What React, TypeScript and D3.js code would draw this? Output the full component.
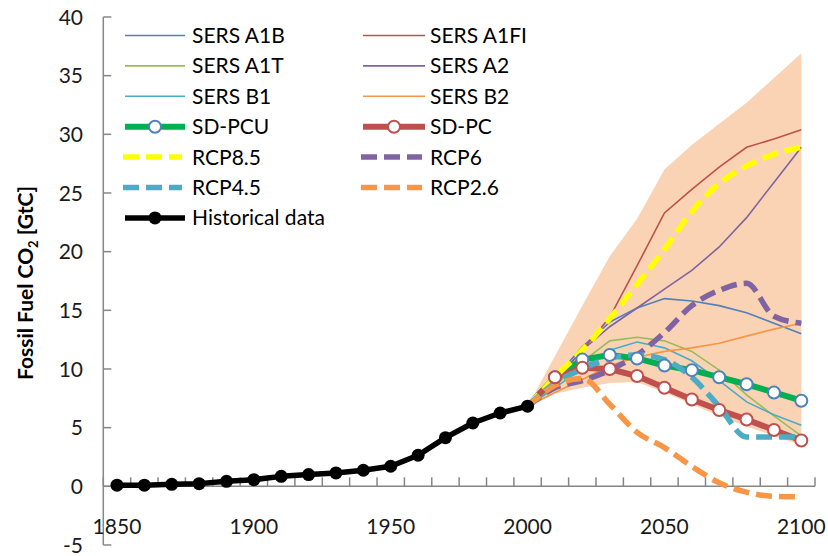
import React from "react";
import * as d3 from "d3";

const histYears = [1850, 1860, 1870, 1880, 1890, 1900, 1910, 1920, 1930, 1940, 1950, 1960, 1970, 1980, 1990, 2000];
const histValues = [0.1, 0.1, 0.17, 0.23, 0.43, 0.57, 0.85, 1.0, 1.14, 1.37, 1.71, 2.65, 4.15, 5.4, 6.25, 6.83];

const futureYears = [2000, 2010, 2020, 2030, 2040, 2050, 2060, 2070, 2080, 2090, 2100];
const sresA1B = [6.8, 9.2, 11.9, 14.0, 15.2, 16.0, 15.8, 15.4, 14.8, 13.9, 13.0];
const sresA1FI = [6.8, 9.0, 11.6, 14.4, 18.8, 23.3, 25.3, 27.2, 28.9, 29.6, 30.4];
const sresA1T = [6.8, 8.6, 10.6, 12.4, 12.7, 12.4, 11.5, 9.9, 7.8, 6.0, 4.3];
const sresA2 = [6.8, 9.0, 11.6, 13.6, 15.2, 16.8, 18.4, 20.4, 22.9, 25.9, 28.9];
const sresB1 = [6.8, 8.4, 10.1, 11.6, 12.3, 11.8, 10.7, 9.0, 7.2, 6.1, 5.2];
const sresB2 = [6.8, 8.0, 9.1, 10.3, 11.0, 11.5, 11.8, 12.2, 12.8, 13.4, 13.9];
const sdPCU = [6.8, 9.3, 10.8, 11.2, 10.9, 10.3, 9.9, 9.3, 8.7, 8.0, 7.3];
const sdPC = [6.8, 9.3, 10.1, 10.0, 9.4, 8.4, 7.4, 6.5, 5.7, 4.8, 3.9];
const rcp85 = [6.8, 9.3, 11.6, 14.3, 17.2, 20.2, 23.4, 25.8, 27.3, 28.3, 28.9];
const rcp6 = [6.8, 8.4, 9.0, 9.9, 11.2, 13.1, 15.4, 16.7, 17.3, 14.5, 13.9];
const rcp45 = [6.8, 8.8, 10.0, 10.9, 11.2, 10.8, 9.3, 6.8, 4.2, 4.2, 4.2];
const rcp26 = [6.8, 8.6, 9.2, 7.0, 4.6, 3.3, 1.7, 0.3, -0.5, -0.85, -0.9];
const bandUpper = [6.8, 11.1, 15.4, 19.6, 22.8, 27.0, 29.1, 30.9, 32.7, 34.8, 36.9];
const bandLower = [6.8, 7.9, 8.4, 8.8, 8.9, 8.0, 7.0, 6.0, 5.1, 4.3, 3.5];

const yTicks = [-5, 0, 5, 10, 15, 20, 25, 30, 35, 40];
const xLabels = [1850, 1900, 1950, 2000, 2050, 2100];
const xTickYears = [1845, 1855, 1865, 1875, 1885, 1895, 1905, 1915, 1925, 1935, 1945, 1955, 1965, 1975, 1985, 1995, 2005, 2015, 2025, 2035, 2045, 2055, 2065, 2075, 2085, 2095, 2105];

type Kind = "thin" | "marker" | "dash" | "hist";
interface Series { name: string; values: number[]; color: string; kind: Kind; markerStroke?: string }

const thinSeries: Series[] = [
  { name: "SERS A1B", values: sresA1B, color: "#4F81BD", kind: "thin" },
  { name: "SERS A1FI", values: sresA1FI, color: "#C0504D", kind: "thin" },
  { name: "SERS A1T", values: sresA1T, color: "#9BBB59", kind: "thin" },
  { name: "SERS A2", values: sresA2, color: "#8064A2", kind: "thin" },
  { name: "SERS B1", values: sresB1, color: "#4BACC6", kind: "thin" },
  { name: "SERS B2", values: sresB2, color: "#F79646", kind: "thin" },
];
const sdSeries: Series[] = [
  { name: "SD-PCU", values: sdPCU, color: "#00B050", kind: "marker", markerStroke: "#4F81BD" },
  { name: "SD-PC", values: sdPC, color: "#C0504D", kind: "marker", markerStroke: "#C0504D" },
];
const rcpSeries: Series[] = [
  { name: "RCP8.5", values: rcp85, color: "#FFFF00", kind: "dash" },
  { name: "RCP6", values: rcp6, color: "#8064A2", kind: "dash" },
  { name: "RCP4.5", values: rcp45, color: "#4BACC6", kind: "dash" },
  { name: "RCP2.6", values: rcp26, color: "#F79646", kind: "dash" },
];
const histSeries: Series = { name: "Historical data", values: histValues, color: "#000000", kind: "hist" };

const legendItems: Series[] = [...thinSeries, ...sdSeries, ...rcpSeries, histSeries];

const W = 828, H = 556;
const x = d3.scaleLinear().domain([1845, 2105]).range([103.3, 815]);
const y = d3.scaleLinear().domain([-5, 40]).range([545, 17]);

const FONT = "Lato, 'Open Sans', sans-serif";
const AXIS = "#868686";
const DASH = "16 7";

export default function App() {
  const lineF = d3.line<[number, number]>().x(d => x(d[0])).y(d => y(d[1]));
  const smoothF = d3.line<[number, number]>().x(d => x(d[0])).y(d => y(d[1])).curve(d3.curveMonotoneX);
  const pts = (yrs: number[], vals: number[]) => yrs.map((yr, i) => [yr, vals[i]] as [number, number]);
  const area = d3.area<number>()
    .x((_, i) => x(futureYears[i]))
    .y0((_, i) => y(bandLower[i]))
    .y1((_, i) => y(bandUpper[i]));

  return (
    <svg width={W} height={H} style={{ position: "absolute", left: 0, top: 0, background: "#fff" }} fontFamily={FONT}>
      <rect x={0} y={0} width={W} height={H} fill="#fff" />
      <path d={area(futureYears) || ""} fill="#FAD3B4" />

      {/* axes */}
      <line x1={x(1845)} x2={x(1845)} y1={y(40)} y2={y(-5)} stroke={AXIS} strokeWidth={1.5} />
      {yTicks.map(t => (
        <line key={"yt" + t} x1={x(1845)} x2={x(1845) + 8} y1={y(t)} y2={y(t)} stroke={AXIS} strokeWidth={1.5} />
      ))}
      <line x1={x(1845)} x2={x(2105)} y1={y(0)} y2={y(0)} stroke={AXIS} strokeWidth={1.5} />
      {xTickYears.map(t => (
        <line key={"xt" + t} x1={x(t)} x2={x(t)} y1={y(0)} y2={y(0) - 9} stroke={AXIS} strokeWidth={1.5} />
      ))}
      {yTicks.map(t => (
        <text key={"yl" + t} x={83} y={y(t) + 7.5} textAnchor="end" fontSize={21} fill="#1a1a1a">{t}</text>
      ))}
      {xLabels.map(t => (
        <text key={"xl" + t} x={x(t)} y={534} textAnchor="middle" fontSize={21} fill="#1a1a1a">{t}</text>
      ))}
      <text transform={`translate(33,283) rotate(-90)`} textAnchor="middle" fontSize={21} fontWeight="bold" fill="#000">
        Fossil Fuel CO<tspan fontSize={13} dy={5}>2</tspan><tspan dy={-5}> [GtC]</tspan>
      </text>

      {/* thin SRES lines */}
      {thinSeries.map(s => (
        <path key={s.name} d={lineF(pts(futureYears, s.values)) || ""} fill="none" stroke={s.color} strokeWidth={1.6} />
      ))}
      {/* SD lines */}
      {sdSeries.map(s => (
        <path key={s.name} d={lineF(pts(futureYears, s.values)) || ""} fill="none" stroke={s.color} strokeWidth={6} strokeLinejoin="round" />
      ))}
      {/* RCP dashed */}
      {rcpSeries.map(s => (
        <path key={s.name} d={smoothF(pts(futureYears, s.values)) || ""} fill="none" stroke={s.color} strokeWidth={5.5} strokeDasharray={DASH} />
      ))}
      {/* SD markers */}
      {sdSeries.map(s => (
        <g key={s.name + "m"}>
          {s.values.map((v, i) => i === 0 ? null : (
            <circle key={i} cx={x(futureYears[i])} cy={y(v)} r={6} fill="#fff" stroke={s.markerStroke} strokeWidth={2} />
          ))}
        </g>
      ))}
      {/* Historical */}
      <path d={lineF(pts(histYears, histValues)) || ""} fill="none" stroke="#000" strokeWidth={5.5} strokeLinejoin="round" />
      {histValues.map((v, i) => (
        <circle key={"h" + i} cx={x(histYears[i])} cy={y(v)} r={6.5} fill="#000" />
      ))}

      {/* legend */}
      {legendItems.map((s, i) => {
        const col = i === 12 ? 0 : i % 2;
        const row = Math.floor(i / 2);
        const cy = 35.5 + row * 30.4;
        const x0 = col === 0 ? 125 : 363;
        const x1 = col === 0 ? 185 : 425;
        const tx = col === 0 ? 192 : 430;
        const mid = (x0 + x1) / 2;
        return (
          <g key={"lg" + s.name}>
            {s.kind === "thin" && <line x1={x0} x2={x1} y1={cy} y2={cy} stroke={s.color} strokeWidth={1.6} />}
            {s.kind === "marker" && (
              <>
                <line x1={x0} x2={x1} y1={cy} y2={cy} stroke={s.color} strokeWidth={6} />
                <circle cx={mid} cy={cy} r={6} fill="#fff" stroke={s.markerStroke} strokeWidth={2} />
              </>
            )}
            {s.kind === "dash" && <line x1={x0 - 2} x2={x1 - 3} y1={cy} y2={cy} stroke={s.color} strokeWidth={5.5} strokeDasharray={DASH} />}
            {s.kind === "hist" && (
              <>
                <line x1={x0} x2={x1} y1={cy} y2={cy} stroke="#000" strokeWidth={5.5} />
                <circle cx={mid} cy={cy} r={6.5} fill="#000" />
              </>
            )}
            <text x={tx} y={cy + 7.5} fontSize={21} fill="#000">{s.name}</text>
          </g>
        );
      })}
    </svg>
  );
}
